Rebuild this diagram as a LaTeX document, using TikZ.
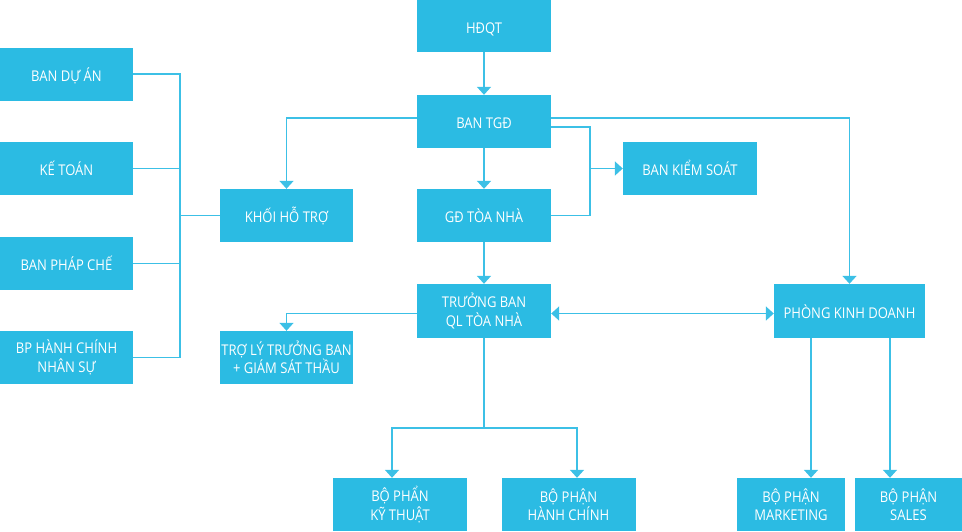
\documentclass[tikz,border=0pt]{standalone}
\usepackage{fontspec}
\setmainfont[FakeStretch=0.88]{Open Sans}
\usetikzlibrary{arrows.meta}
\definecolor{boxblue}{HTML}{2BBBE3}
\definecolor{lineblue}{HTML}{3CC0E6}
\tikzset{
  box/.style={fill=boxblue, text=white, align=center, inner sep=0pt,
    font=\fontsize{14.8}{18.5}\selectfont},
  oneline/.style={text height=14.2pt, text depth=0pt},
  conn/.style={draw=lineblue, line width=1.7pt},
  arr/.style={conn, -{Triangle[width=14pt,length=8pt]}},
  arrboth/.style={conn, {Triangle[width=14pt,length=8pt]}-{Triangle[width=14pt,length=8pt]}}
}
\begin{document}
\begin{tikzpicture}[x=1pt,y=-1pt]
\useasboundingbox (0,0) rectangle (962,531);
% nodes
\node[box, oneline, minimum width=134pt, minimum height=52pt] (hdqt) at (484,26) {HĐQT};
\node[box, oneline, minimum width=134pt, minimum height=53pt] (tgd) at (484,121.5) {BAN TGĐ};
\node[box, oneline, minimum width=134pt, minimum height=53pt] (gd) at (484,215.5) {GĐ TÒA NHÀ};
\node[box, oneline, minimum width=134pt, minimum height=53pt] (bks) at (690,168.5) {BAN KIỂM SOÁT};
\node[box, oneline, minimum width=133pt, minimum height=53pt] (khoi) at (286.5,215.5) {KHỐI HỖ TRỢ};
\node[box, minimum width=133pt, minimum height=53pt] (troly) at (286.5,357.5) {TRỢ LÝ TRƯỞNG BAN\\+ GIÁM SÁT THẦU};
\node[box, oneline, minimum width=133pt, minimum height=53pt] (bda) at (66.5,74) {BAN DỰ ÁN};
\node[box, oneline, minimum width=133pt, minimum height=53pt] (ketoan) at (66.5,168.5) {KẾ TOÁN};
\node[box, oneline, minimum width=133pt, minimum height=53pt] (bpc) at (66.5,263.5) {BAN PHÁP CHẾ};
\node[box, minimum width=133pt, minimum height=53pt] (bphc) at (66.5,357.5) {BP HÀNH CHÍNH\\NHÂN SỰ};
\node[box, minimum width=134pt, minimum height=54pt] (truong) at (484,311) {TRƯỞNG BAN\\QL TÒA NHÀ};
\node[box, oneline, minimum width=151pt, minimum height=54pt] (pkd) at (849.5,311) {PHÒNG KINH DOANH};
\node[box, minimum width=134pt, minimum height=53pt] (kythuat) at (400,504.5) {BỘ PHẨN\\KỸ THUẬT};
\node[box, minimum width=134pt, minimum height=53pt] (hanhchinh) at (568.5,504.5) {BỘ PHẬN\\HÀNH CHÍNH};
\node[box, minimum width=108pt, minimum height=53pt] (mkt) at (791,504.5) {BỘ PHẬN\\MARKETING};
\node[box, minimum width=107pt, minimum height=53pt] (sales) at (908.5,504.5) {BỘ PHẬN\\SALES};
% connectors
\draw[arr] (hdqt) -- (tgd);
\draw[arr] (tgd) -- (gd);
\draw[arr] (gd) -- (truong);
\draw[arr] ([yshift=3.5pt]tgd.west) -| (khoi.north);
\draw[arr] ([yshift=3.5pt]tgd.east) -| (pkd.north);
\draw[conn] ([yshift=-5.5pt]tgd.east) -- ++(39,0) coordinate (kj) |- (gd.east);
\coordinate (kjm) at (590,168.5);
\draw[arr] (kjm) -- (bks.west);
\draw[arr] ([yshift=-2.5pt]truong.west) -| (troly.north);
\draw[arrboth] ([yshift=-2.5pt]truong.east) -- ([yshift=-2.5pt]pkd.west);
\draw[conn] (truong.south) -- ++(0,90) coordinate (bbus);
\draw[arr] (bbus) -| ([xshift=-8pt]kythuat.north);
\draw[arr] (bbus) -| ([xshift=8.5pt]hanhchinh.north);
\draw[arr] ([xshift=-38.5pt]pkd.south) -- ([xshift=20pt]mkt.north);
\draw[arr] ([xshift=40.5pt]pkd.south) -- ([xshift=-18.5pt]sales.north);
% left bus
\draw[conn] (bda.east) -- ++(47,0) coordinate (lb) |- (bphc.east);
\draw[conn] (ketoan.east) -- (ketoan.east -| lb);
\draw[conn] (bpc.east) -- (bpc.east -| lb);
\draw[conn] (khoi.west) -- (khoi.west -| lb);
\end{tikzpicture}
\end{document}
